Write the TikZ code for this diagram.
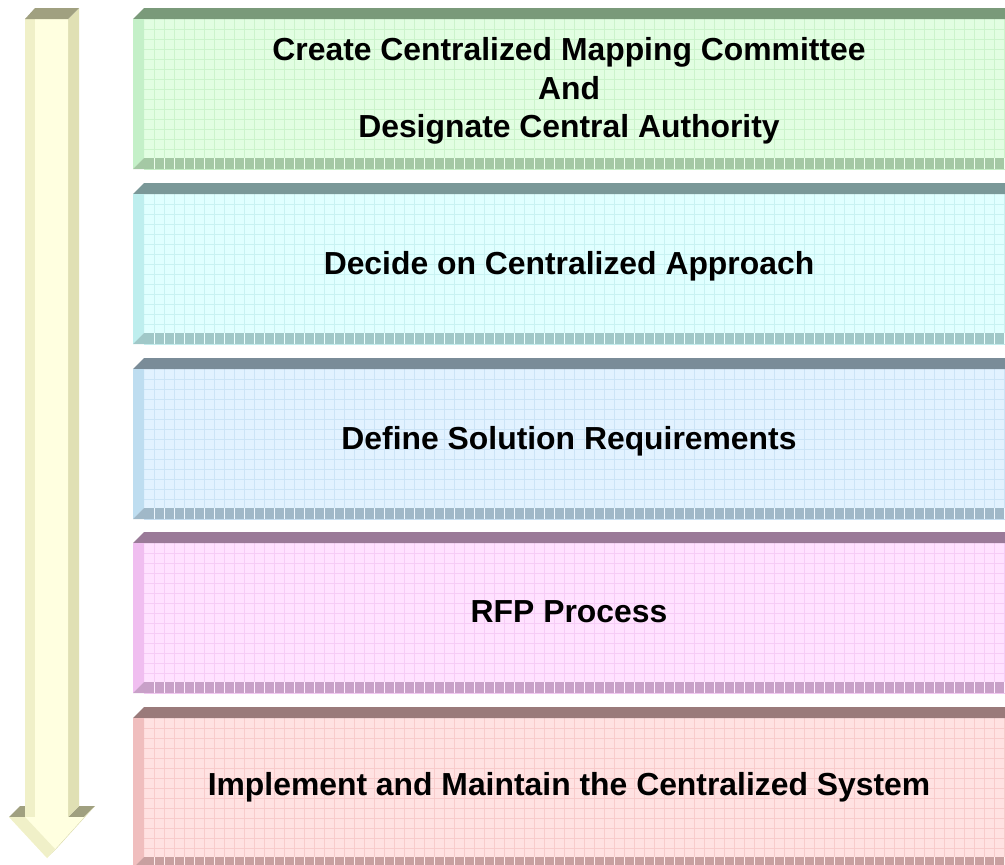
\documentclass[tikz,border=0pt]{standalone}
\usepackage{fontspec}
\setmainfont{Liberation Sans}
\usetikzlibrary{positioning}

% stage colours: front, grid, top band, left strip, bottom band
\definecolor{frontone}{HTML}{E2FEE2}\definecolor{gridone}{HTML}{CCF4CC}
\definecolor{topone}{HTML}{7A9A7A}\definecolor{leftone}{HTML}{C4F0C8}\definecolor{bandone}{HTML}{A4C8A4}
\definecolor{fronttwo}{HTML}{E0FFFF}\definecolor{gridtwo}{HTML}{C8F2F2}
\definecolor{toptwo}{HTML}{7A9898}\definecolor{lefttwo}{HTML}{BEEEEE}\definecolor{bandtwo}{HTML}{A0C8C8}
\definecolor{frontthree}{HTML}{E2F2FF}\definecolor{gridthree}{HTML}{CCE4F6}
\definecolor{topthree}{HTML}{7A8C98}\definecolor{leftthree}{HTML}{BEDDF0}\definecolor{bandthree}{HTML}{A0B8C8}
\definecolor{frontfour}{HTML}{FFE2FF}\definecolor{gridfour}{HTML}{F6CCF6}
\definecolor{topfour}{HTML}{9A7A98}\definecolor{leftfour}{HTML}{F0BEF0}\definecolor{bandfour}{HTML}{C8A0C8}
\definecolor{frontfive}{HTML}{FFE2E2}\definecolor{gridfive}{HTML}{F8CCCC}
\definecolor{topfive}{HTML}{9A7A7A}\definecolor{leftfive}{HTML}{F0BEBE}\definecolor{bandfive}{HTML}{C8A0A0}
% arrow colours
\definecolor{arrowfront}{HTML}{FFFFE0}\definecolor{arrowstrip}{HTML}{F0F0C8}
\definecolor{arrowside}{HTML}{E0E0B4}\definecolor{arrowtop}{HTML}{A0A080}

\tikzset{
  stagetext/.style={font=\bfseries\fontsize{23.9}{29}\selectfont, align=center, inner sep=0pt},
  gridline/.style={line width=0.4pt}
}

\begin{document}
\begin{tikzpicture}[x=0.75pt, y=-0.75pt]
  \useasboundingbox (0,0) rectangle (1005,864);
  \clip (0,0) rectangle (1005,864);

  % stages
  \foreach \t/\c in {8/one,183/two,358/three,532/four,707/five}{
    \pgfmathsetmacro{\b}{\t+161}
    \fill[front\c] (133,\t+11) rectangle (1005,\b);
    \foreach \gx in {154,164,...,1004}
      \draw[gridline, grid\c] (\gx,\t+11) -- (\gx,\b);
    \foreach \gy in {10,20,...,150}
      \draw[gridline, grid\c] (144,\t+11+\gy) -- (1005,\t+11+\gy);
    \fill[top\c] (133,\t+11) -- (144,\t) -- (1005,\t) -- (1005,\t+11) -- cycle;
    \fill[left\c] (133,\t+11) -- (144,\t+11) -- (144,\b-11) -- (133,\b) -- cycle;
    \fill[band\c] (133,\b) -- (144,\b-11) -- (1005,\b-11) -- (1005,\b) -- cycle;
    \foreach \gx in {154,164,...,1004}
      \draw[gridline, front\c!60] (\gx,\b-11) -- (\gx,\b);
  }

  \node[stagetext] (create) at (569,91) {Create Centralized Mapping Committee\\And\\Designate Central Authority};
  \node[stagetext] (decide) at (569,266) {Decide on Centralized Approach};
  \node[stagetext] (define) at (569,441) {Define Solution Requirements};
  \node[stagetext] (rfp) at (569,612) {RFP Process};
  \node[stagetext] (implement) at (569,787) {Implement and Maintain the Centralized System};

  % arrow
  \fill[arrowtop] (9,817) -- (20,806) -- (36,806) -- (25,817) -- cycle;
  \fill[arrowtop] (68,817) -- (79,806) -- (95,806) -- (84,817) -- cycle;
  \fill[arrowside] (68,19) -- (79,8) -- (79,806) -- (68,817) -- cycle;
  \fill[arrowside] (84,817) -- (95,806) -- (58,847) -- (47,858) -- cycle;
  \fill[arrowfront] (25,19) -- (25,817) -- (9,817) -- (47,858) -- (84,817) -- (68,817) -- (68,19) -- cycle;
  \fill[arrowstrip] (25,19) -- (35,19) -- (35,817) -- (25,817) -- cycle;
  \fill[arrowstrip] (9,817) -- (25,817) -- (55,849) -- (47,858) -- cycle;
  \fill[arrowtop] (25,19) -- (35,8) -- (79,8) -- (68,19) -- cycle;
\end{tikzpicture}
\end{document}
